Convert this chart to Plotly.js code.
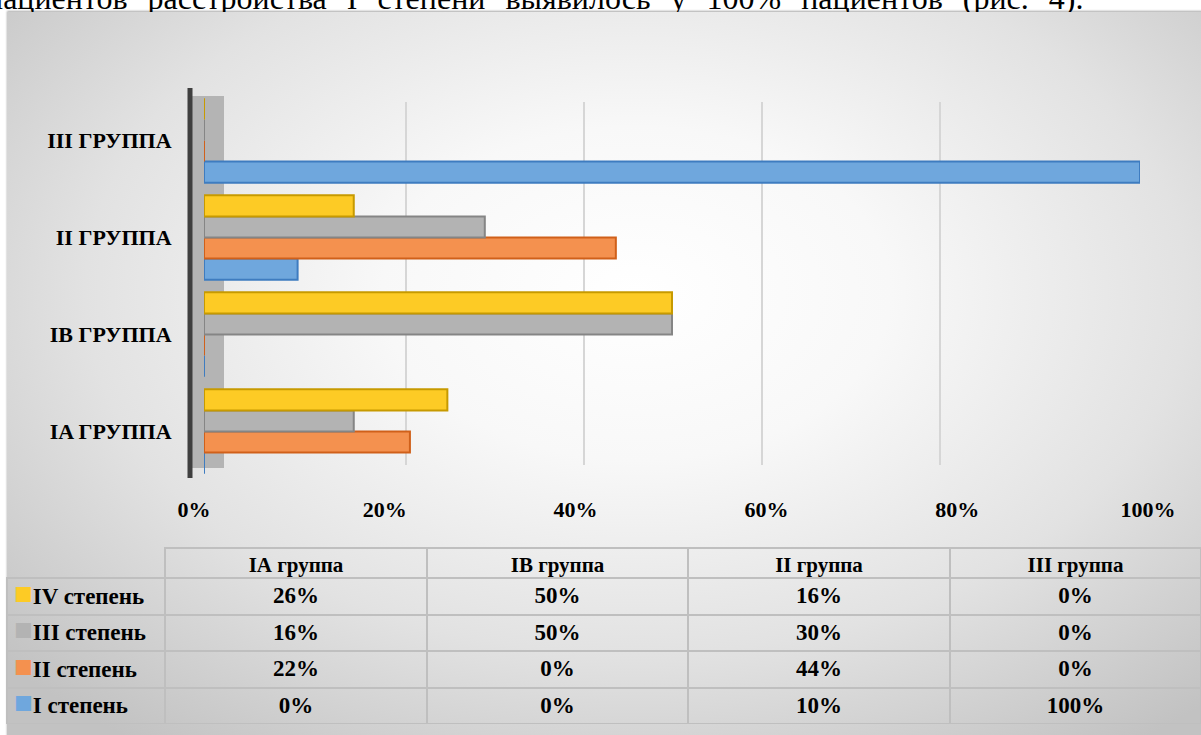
<!DOCTYPE html>
<html>
<head>
<meta charset="utf-8">
<script src="https://cdn.plot.ly/plotly-3.0.1.min.js"></script>
<style>
html,body{margin:0;padding:0;background:#fff;overflow:hidden;}
#doc{position:absolute;left:-14px;top:-18px;font-family:'Liberation Serif',serif;font-size:32px;line-height:32px;white-space:nowrap;color:#000;word-spacing:12px;}
#frame{position:absolute;left:7px;top:12px;width:1210px;height:740px;
 background:radial-gradient(ellipse 70% 75% at 52% 38%, #ffffff 0%, #f8f8f8 30%, #e2e2e2 65%, #c2c2c2 100%);
 box-shadow:0 -1px 2px rgba(0,0,0,0.35);}
#chart{position:absolute;left:0;top:0;width:1201px;height:735px;}
</style>
</head>
<body>
<div id="doc">пациентов расстройства I степени выявилось у 100% пациентов (рис. 4).</div>
<div id="frame"></div>
<div id="chart"></div>
<script>
// ---- data ----
var groups = ['IA группа', 'IB группа', 'II группа', 'III группа'];
var groupLabels = ['IA ГРУППА', 'IB ГРУППА', 'II ГРУППА', 'III ГРУППА'];
var seriesNames = ['I степень', 'II степень', 'III степень', 'IV степень'];
var degreeI   = [0, 0, 10, 100];
var degreeII  = [22, 0, 44, 0];
var degreeIII = [16, 50, 30, 0];
var degreeIV  = [26, 50, 16, 0];
var xTicks = [0, 20, 40, 60, 80, 100];
var xTickText = ['0%', '20%', '40%', '60%', '80%', '100%'];

// ---- styles ----
var fills = ['#6FA7DD', '#F4914F', '#B3B3B3', '#FDCB25'];
var edges = ['#3E7CC0', '#D0601A', '#858585', '#C79A00'];
var seriesValues = [degreeI, degreeII, degreeIII, degreeIV];
var FONT = 'Liberation Serif, serif';
var NB = '\u00A0';

var traces = [];
// empty helper traces so the back-wall grid axis (x/y) and the label axis (x2/y2) get drawn
traces.push({type: 'scatter', mode: 'none', x: [], y: [], xaxis: 'x', yaxis: 'y', showlegend: false, hoverinfo: 'skip'});
traces.push({type: 'scatter', mode: 'none', x: [], y: [], xaxis: 'x2', yaxis: 'y2', showlegend: false, hoverinfo: 'skip'});
// bars (drawn on x3/y3, above the grid)
seriesValues.forEach(function (vals, i) {
  traces.push({
    type: 'bar', orientation: 'h', name: seriesNames[i],
    x: vals, y: groups,
    marker: {color: fills[i], line: {color: edges[i], width: 2}},
    hoverinfo: 'x+y', showlegend: false,
    xaxis: 'x3', yaxis: 'y3'
  });
});

// ---- data table (series listed from IV down to I) ----
var order = [3, 2, 1, 0];
var tblTop = 548, headH = 30, rowH = 36.5;
var tableCols = [order.map(function () { return ''; })];
groups.forEach(function (g, gi) {
  tableCols.push(order.map(function (s) { return seriesValues[s][gi] + '%'; }));
});
traces.push({
  type: 'table',
  domain: {x: [7 / 1201, 1], y: [1 - (tblTop + headH + 4 * rowH) / 735, 1 - tblTop / 735]},
  columnwidth: [158, 262, 261, 262, 251],
  header: {
    values: [''].concat(groups.map(function (g) { return g.replace(/ /g, NB); })),
    height: headH,
    align: 'center',
    fill: {color: 'rgba(0,0,0,0)'},
    line: {color: ['rgba(0,0,0,0)', '#bfbfbf', '#bfbfbf', '#bfbfbf', '#bfbfbf'], width: 2},
    font: {family: FONT, size: 21, color: '#000', weight: 'bold'}
  },
  cells: {
    values: tableCols,
    height: rowH,
    align: ['left', 'center', 'center', 'center', 'center'],
    fill: {color: 'rgba(0,0,0,0)'},
    line: {color: '#bfbfbf', width: 2},
    font: {family: FONT, size: 23, color: '#000', weight: 'bold'}
  }
});

var px = function (v) { return v / 1201; };
var py = function (v) { return 1 - v / 735; };

// legend keys of the table's first column
var legendAnn = order.map(function (s, r) {
  return {
    xref: 'paper', yref: 'paper', xanchor: 'left', yanchor: 'middle',
    x: px(12), y: py(tblTop + headH + rowH * (r + 0.5)), yshift: 3,
    showarrow: false,
    text: '<span style="color:' + fills[s] + ';font-size:31px">■</span>' + seriesNames[s],
    font: {family: FONT, size: 23, color: '#000', weight: 'bold'}
  };
});

var hidden = {showticklabels: false, showgrid: false, zeroline: false, showline: false, ticks: ''};

var layout = {
  width: 1201, height: 735,
  margin: {l: 0, r: 0, t: 0, b: 0},
  paper_bgcolor: 'rgba(0,0,0,0)',
  plot_bgcolor: 'rgba(0,0,0,0)',
  font: {family: FONT},
  barmode: 'group', bargap: 0.13, bargroupgap: 0,
  showlegend: false,
  // back-wall gridlines
  xaxis: {
    domain: [px(228), px(1118)], anchor: 'y', range: [0, 100],
    tickvals: xTicks.slice(1), showticklabels: false,
    showgrid: true, gridcolor: '#d6d6d6', gridwidth: 2,
    zeroline: false, showline: false, ticks: ''
  },
  yaxis: Object.assign({domain: [py(465), py(102)], anchor: 'x', range: [0, 1]}, hidden),
  // front-plane tick labels
  xaxis2: {
    domain: [px(194), px(1148)], anchor: 'y2', range: [0, 100],
    tickvals: xTicks, ticktext: xTickText,
    showgrid: false, zeroline: false, showline: false,
    ticks: 'outside', ticklen: 8, tickcolor: 'rgba(0,0,0,0)',
    tickfont: {family: FONT, size: 22, color: '#000', weight: 'bold'}
  },
  yaxis2: Object.assign({domain: [py(482), py(92)], anchor: 'x2', range: [0, 1]}, hidden),
  // axes carrying the bars
  xaxis3: Object.assign({domain: [px(204), px(1140)], anchor: 'y3', range: [0, 100]}, hidden),
  yaxis3: {
    domain: [py(480), py(92)], anchor: 'x3',
    type: 'category', categoryarray: groups,
    tickvals: groups, ticktext: groupLabels,
    showgrid: false, zeroline: false, showline: false,
    ticks: 'outside', ticklen: 27, tickcolor: 'rgba(0,0,0,0)',
    tickfont: {family: FONT, size: 22, color: '#000', weight: 'bold'}
  },
  annotations: legendAnn,
  shapes: [
    {type: 'rect', xref: 'paper', yref: 'paper', layer: 'below',
     x0: px(192), x1: px(224), y0: py(468), y1: py(96),
     fillcolor: '#b4b4b4', line: {width: 0}},
    {type: 'line', xref: 'paper', yref: 'paper', layer: 'above',
     x0: px(190), x1: px(190), y0: py(478), y1: py(88),
     line: {color: '#3f3f3f', width: 5}}
  ]
};

Plotly.newPlot('chart', traces, layout, {displayModeBar: false, staticPlot: true});
</script>
</body>
</html>
